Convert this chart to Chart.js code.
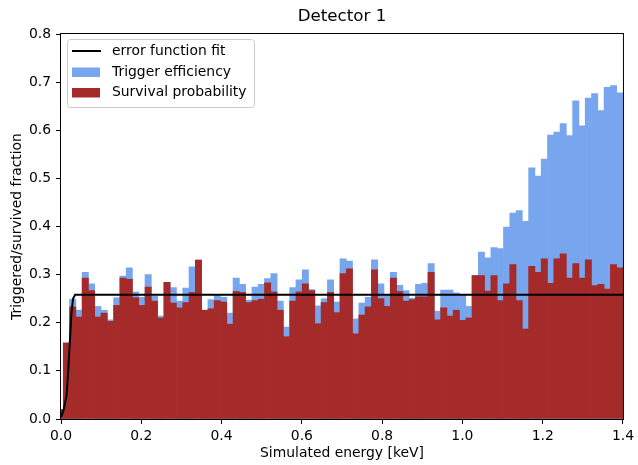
<!DOCTYPE html>
<html>
<head>
<meta charset="utf-8">
<script src="https://cdn.jsdelivr.net/npm/chart.js@4.4.1/dist/chart.umd.min.js"></script>
<style>
  html, body { margin: 0; padding: 0; background: #fff; }
  canvas { display: block; }
</style>
</head>
<body>
<canvas id="chart" width="638" height="465"></canvas>
<script>
// histogram bins (keV): first bin is partly below 0
const binStart = -0.01;
const binWidth = 1.41 / 90;

const triggerEfficiency = [
  0.02, 0.158, 0.249, 0.226, 0.305, 0.281, 0.234, 0.226, 0.206, 0.252,
  0.297, 0.314, 0.264, 0.253, 0.300, 0.256, 0.214, 0.284, 0.273, 0.245,
  0.272, 0.316, 0.330, 0.226, 0.248, 0.257, 0.253, 0.220, 0.293, 0.280,
  0.247, 0.274, 0.280, 0.292, 0.302, 0.245, 0.191, 0.273, 0.289, 0.310,
  0.269, 0.235, 0.250, 0.289, 0.243, 0.333, 0.328, 0.208, 0.241, 0.253,
  0.331, 0.281, 0.257, 0.305, 0.278, 0.267, 0.251, 0.280, 0.282, 0.323,
  0.224, 0.268, 0.268, 0.262, 0.257, 0.234, 0.298, 0.347, 0.335, 0.356,
  0.354, 0.399, 0.428, 0.433, 0.411, 0.522, 0.505, 0.540, 0.590, 0.596,
  0.614, 0.589, 0.661, 0.609, 0.667, 0.676, 0.641, 0.689, 0.693, 0.678
];

const survivalProbability = [
  0.02, 0.158, 0.233, 0.212, 0.293, 0.267, 0.212, 0.220, 0.203, 0.236,
  0.293, 0.290, 0.252, 0.236, 0.274, 0.245, 0.210, 0.284, 0.241, 0.231,
  0.242, 0.263, 0.330, 0.226, 0.229, 0.246, 0.243, 0.197, 0.265, 0.263,
  0.242, 0.246, 0.249, 0.283, 0.264, 0.226, 0.171, 0.245, 0.264, 0.281,
  0.267, 0.198, 0.242, 0.263, 0.221, 0.302, 0.312, 0.177, 0.216, 0.233,
  0.310, 0.250, 0.234, 0.293, 0.265, 0.245, 0.248, 0.254, 0.254, 0.305,
  0.206, 0.231, 0.214, 0.226, 0.205, 0.210, 0.298, 0.298, 0.266, 0.298,
  0.246, 0.281, 0.321, 0.246, 0.187, 0.317, 0.305, 0.333, 0.282, 0.333,
  0.343, 0.293, 0.323, 0.293, 0.331, 0.277, 0.280, 0.270, 0.321, 0.314
];

// error function fit
const fitEnergy = [0, 0.007, 0.014, 0.018, 0.022, 0.026, 0.03, 0.035, 1.4];
const fitValue = [0.004, 0.02, 0.05, 0.10, 0.16, 0.22, 0.25, 0.258, 0.258];

const xTicks = [0, 0.2, 0.4, 0.6, 0.8, 1.0, 1.2, 1.4];
const yTicks = [0, 0.1, 0.2, 0.3, 0.4, 0.5, 0.6, 0.7, 0.8];

const FONT = "'DejaVu Sans', sans-serif";
const BLUE = "#78a6ee";
const RED = "#a52a2a";

const binCenters = triggerEfficiency.map((_, i) => binStart + binWidth * (i + 0.5));

function toPoints(xs, ys) {
  return xs.map((x, i) => ({ x: x, y: ys[i] }));
}

// legend inside the axes, title and box frame like matplotlib
const decorations = {
  id: "decorations",
  afterDraw(chart) {
    const ctx = chart.ctx;
    const area = chart.chartArea;
    ctx.save();

    ctx.strokeStyle = "#000";
    ctx.lineWidth = 1;
    ctx.strokeRect(area.left - 0.5, area.top - 0.5, area.right - area.left + 1, area.bottom - area.top + 1);

    ctx.fillStyle = "#000";
    ctx.font = "16.7px " + FONT;
    ctx.textAlign = "center";
    ctx.textBaseline = "middle";
    ctx.fillText("Detector 1", (area.left + area.right) / 2, 17);

    const lx = area.left + 6.5, ly = area.top + 5.5;
    ctx.beginPath();
    ctx.roundRect(lx, ly, 187, 68, 3);
    ctx.fillStyle = "rgba(255,255,255,0.8)";
    ctx.fill();
    ctx.strokeStyle = "#cccccc";
    ctx.stroke();

    const rows = [17, 38, 58.5];
    ctx.font = "13.9px " + FONT;
    ctx.textAlign = "left";
    chart.data.datasets.forEach((ds, i) => {
      const y = area.top + rows[i];
      if (ds.type === "line") {
        ctx.beginPath();
        ctx.moveTo(area.left + 11, y);
        ctx.lineTo(area.left + 40, y);
        ctx.strokeStyle = ds.borderColor;
        ctx.lineWidth = 2;
        ctx.stroke();
      } else {
        ctx.fillStyle = ds.backgroundColor;
        ctx.fillRect(area.left + 11, y - 4.5, 28, 9.5);
      }
      ctx.fillStyle = "#000";
      ctx.fillText(ds.label, area.left + 51, y);
    });
    ctx.restore();
  }
};

new Chart(document.getElementById("chart"), {
  data: {
    datasets: [
      {
        type: "line",
        label: "error function fit",
        data: toPoints(fitEnergy, fitValue),
        borderColor: "#000",
        borderWidth: 2,
        pointRadius: 0,
        tension: 0,
        order: 0
      },
      {
        type: "bar",
        label: "Trigger efficiency",
        data: toPoints(binCenters, triggerEfficiency),
        backgroundColor: BLUE,
        borderWidth: 0,
        grouped: false,
        barPercentage: 1,
        categoryPercentage: 1,
        order: 2
      },
      {
        type: "bar",
        label: "Survival probability",
        data: toPoints(binCenters, survivalProbability),
        backgroundColor: RED,
        borderWidth: 0,
        grouped: false,
        barPercentage: 1,
        categoryPercentage: 1,
        order: 1
      }
    ]
  },
  options: {
    responsive: false,
    animation: false,
    devicePixelRatio: 1,
    layout: { padding: { top: 34, right: 11, left: 0, bottom: 0 } },
    plugins: {
      legend: { display: false },
      title: { display: false },
      tooltip: { enabled: false }
    },
    scales: {
      x: {
        type: "linear",
        min: 0,
        max: 1.4,
        offset: false,
        afterBuildTicks: (s) => { s.ticks = xTicks.map((v) => ({ value: v })); },
        afterFit: (s) => { s.height = 46; },
        border: { display: false },
        grid: { offset: false, drawOnChartArea: false, drawTicks: true, tickLength: 5, tickColor: "#000" },
        ticks: {
          color: "#000",
          font: { family: FONT, size: 13.9 },
          padding: 4,
          maxRotation: 0,
          callback: (v) => v.toFixed(1)
        },
        title: {
          display: true,
          text: "Simulated energy [keV]",
          color: "#000",
          font: { family: FONT, size: 13.9 },
          padding: { top: 0, bottom: 3.7 }
        }
      },
      y: {
        min: 0,
        max: 0.8,
        afterBuildTicks: (s) => { s.ticks = yTicks.map((v) => ({ value: v })); },
        afterFit: (s) => { s.width = 61; },
        border: { display: false },
        grid: { offset: false, drawOnChartArea: false, drawTicks: true, tickLength: 5, tickColor: "#000" },
        ticks: {
          color: "#000",
          font: { family: FONT, size: 13.9 },
          padding: 5,
          callback: (v) => v.toFixed(1)
        },
        title: {
          display: true,
          text: "Triggered/survived fraction",
          color: "#000",
          font: { family: FONT, size: 13.9 },
          padding: { top: 9.5, bottom: 0 }
        }
      }
    }
  },
  plugins: [decorations]
});
</script>
</body>
</html>
